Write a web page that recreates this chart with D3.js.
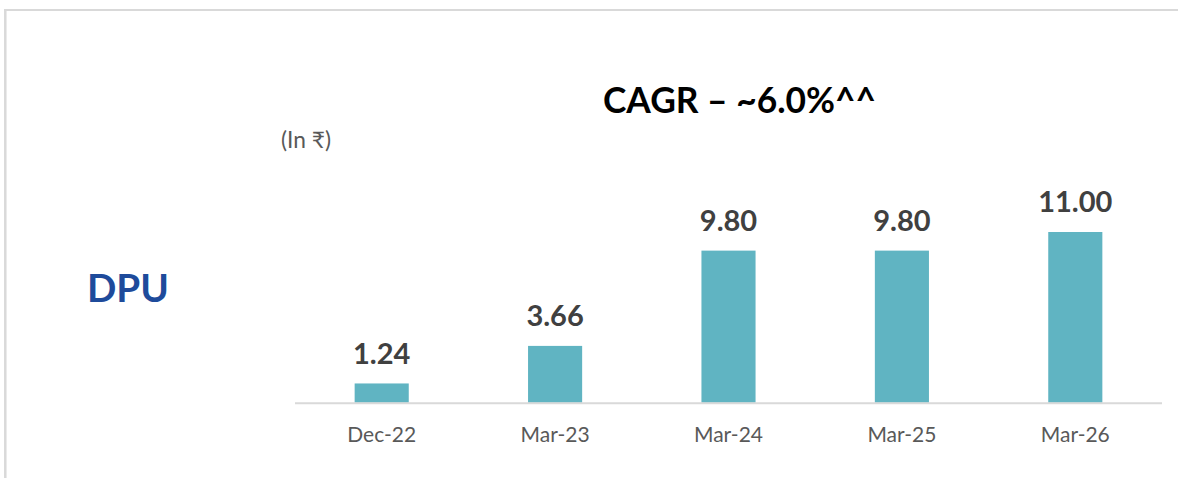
<!DOCTYPE html>
<html><head><meta charset="utf-8">
<script src="https://cdn.jsdelivr.net/npm/d3@7"></script>
<style>html,body{margin:0;padding:0;background:#fff;}svg{display:block;}</style>
</head><body>
<svg id="c" width="1178" height="478"></svg>
<script>
const categories = ["Dec-22","Mar-23","Mar-24","Mar-25","Mar-26"];
const dpuValues = [1.24, 3.66, 9.80, 9.80, 11.00];
const valueLabels = ["1.24","3.66","9.80","9.80","11.00"];
const titleText = "CAGR – ~6.0%^^";
const metricText = "DPU";
const unitText = "(In ₹)";

const svg = d3.select("#c");
const FONT = "Lato, 'Open Sans', sans-serif";

// frame
svg.append("line").attr("x1",5.3).attr("x2",5.3).attr("y1",9).attr("y2",478)
  .attr("stroke","#d9d9d9").attr("stroke-width",2.5);
svg.append("line").attr("x1",4).attr("x2",1178).attr("y1",10).attr("y2",10)
  .attr("stroke","#d9d9d9").attr("stroke-width",2);

const x = d3.scaleBand().domain(categories).range([295,1162]).paddingInner(0.688).paddingOuter(0.344);
const y = d3.scaleLinear().domain([0,11]).range([402.7,232]);

function fit(sel, w){
  const n = sel.node();
  const fs = parseFloat(sel.attr("font-size"));
  const cw = n.getComputedTextLength();
  sel.attr("font-size", fs*w/cw);
}

// bars
svg.append("g").selectAll("rect").data(dpuValues).join("rect")
  .attr("x",(d,i)=>x(categories[i]))
  .attr("width",x.bandwidth())
  .attr("y",d=>y(d))
  .attr("height",d=>y(0)-y(d))
  .attr("fill","#60b4c2");

// axis
const axis = svg.append("g").attr("transform",`translate(0,${y(0)})`)
  .call(d3.axisBottom(x).tickSize(0).tickPadding(0));
axis.select(".domain").attr("stroke","#d9d9d9").attr("stroke-width",2)
  .attr("d","M295,0.5H1162");
axis.selectAll(".tick text").attr("font-family",FONT).attr("font-size",21)
  .attr("fill","#595959").attr("dy",null).attr("y",39.8);

// value labels
svg.append("g").selectAll("text").data(dpuValues).join("text")
  .attr("x",(d,i)=>x(categories[i])+x.bandwidth()/2)
  .attr("y",d=>y(d)-19.7)
  .attr("text-anchor","middle")
  .attr("font-family",FONT).attr("font-weight",700).attr("font-size",29)
  .attr("fill","#404040")
  .text((d,i)=>valueLabels[i]);

// title
const t = svg.append("text").attr("x",603).attr("y",112.7)
  .attr("font-family",FONT).attr("font-weight",700).attr("font-size",37)
  .attr("fill","#000").text(titleText);
fit(t,273);

// DPU
const m = svg.append("text").attr("x",87).attr("y",301.7)
  .attr("font-family",FONT).attr("font-weight",700).attr("font-size",41)
  .attr("fill","#1e4b9b").text(metricText);
fit(m,82);

// unit
const u = svg.append("text").attr("x",281).attr("y",148)
  .attr("font-family",FONT).attr("font-size",16)
  .attr("fill","#595959").text(unitText);
fit(u,50);
</script>
</body></html>
